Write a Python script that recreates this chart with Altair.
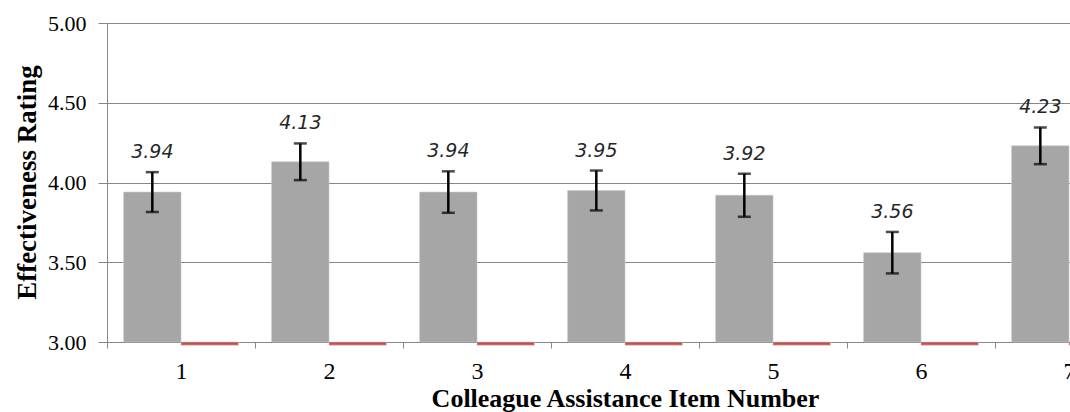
import altair as alt
import pandas as pd

categories = ["1", "2", "3", "4", "5", "6", "7"]
means = [3.94, 4.13, 3.94, 3.95, 3.92, 3.56, 4.23]
errors = [0.125, 0.115, 0.13, 0.125, 0.135, 0.13, 0.115]
red_values = [2.98, 2.98, 2.98, 2.98, 2.98, 2.98, 2.98]
y_ticks = [3.0, 3.5, 4.0, 4.5, 5.0]

rows = []
for c, m, e, r in zip(categories, means, errors, red_values):
    rows.append({"cat": c, "series": "A", "value": m, "base": 3.0,
                 "lower": m - e, "upper": m + e})
    rows.append({"cat": c, "series": "B", "value": r, "base": 3.0,
                 "lower": r, "upper": r})
df = pd.DataFrame(rows)

GRID = "#878787"
SERIF = "Liberation Serif"

x_enc = alt.X(
    "cat:N",
    sort=categories,
    scale=alt.Scale(range=[0, 1036], paddingInner=0, paddingOuter=0),
    axis=alt.Axis(
        title="Colleague Assistance Item Number",
        labelAngle=0,
        labelFont=SERIF,
        labelFontSize=24,
        labelColor="black",
        labelPadding=11,
        tickBand="extent",
        tickSize=6,
        tickColor=GRID,
        domainColor=GRID,
        grid=False,
        titleFont=SERIF,
        titleFontSize=26,
        titleFontWeight="bold",
        titleColor="black",
        titleBaseline="alphabetic",
        titleY=64,
    ),
)
xoff = alt.XOffset(
    "series:N",
    scale=alt.Scale(domain=["A", "B"], paddingInner=0, paddingOuter=0.29),
)
y_scale = alt.Scale(domain=[3.0, 5.0], zero=False, nice=False)
y_enc = alt.Y(
    "value:Q",
    scale=y_scale,
    axis=alt.Axis(
        title="Effectiveness Rating",
        values=y_ticks,
        format=".2f",
        labelFont=SERIF,
        labelFontSize=22,
        labelColor="black",
        labelPadding=12,
        tickSize=9,
        tickColor=GRID,
        domainColor=GRID,
        gridColor=GRID,
        titleFont=SERIF,
        titleFontSize=27,
        titleFontWeight="bold",
        titleColor="black",
        titleAngle=270,
        titleBaseline="alphabetic",
        titleX=-72,
        titleY=159,
    ),
)

base = alt.Chart(df)

bars = base.mark_bar(stroke="#c8c8c8", strokeWidth=0.6).encode(
    x=x_enc,
    xOffset=xoff,
    y=y_enc,
    y2="base:Q",
    color=alt.Color(
        "series:N",
        scale=alt.Scale(domain=["A", "B"], range=["#a6a6a6", "#c0504d"]),
        legend=None,
    ),
)

grey = base.transform_filter(alt.datum.series == "A")

err_rule = grey.mark_rule(color="black", strokeWidth=2.5).encode(
    x=alt.X("cat:N", sort=categories),
    xOffset=xoff,
    y=alt.Y("lower:Q", scale=y_scale),
    y2="upper:Q",
)
cap_low = grey.mark_tick(color="black", thickness=2.5, size=13).encode(
    x=alt.X("cat:N", sort=categories),
    xOffset=xoff,
    y=alt.Y("lower:Q", scale=y_scale),
)
cap_high = grey.mark_tick(color="black", thickness=2.5, size=13).encode(
    x=alt.X("cat:N", sort=categories),
    xOffset=xoff,
    y=alt.Y("upper:Q", scale=y_scale),
)
labels = grey.mark_text(
    font="DejaVu Sans",
    fontStyle="italic",
    fontSize=19,
    color="#262626",
    baseline="alphabetic",
    dy=-14,
).encode(
    x=alt.X("cat:N", sort=categories),
    xOffset=xoff,
    y=alt.Y("upper:Q", scale=y_scale),
    text=alt.Text("value:Q", format=".2f"),
)

chart = (
    alt.layer(bars, err_rule, cap_low, cap_high, labels)
    .properties(
        width=963,
        height=319,
        autosize=alt.AutoSizeParams(type="none"),
        padding={"left": 107, "top": 23, "right": 0, "bottom": 70},
        background="white",
    )
    .configure_view(stroke=None)
)

chart.save("out.html", embed_options={"renderer": "svg", "actions": False})
